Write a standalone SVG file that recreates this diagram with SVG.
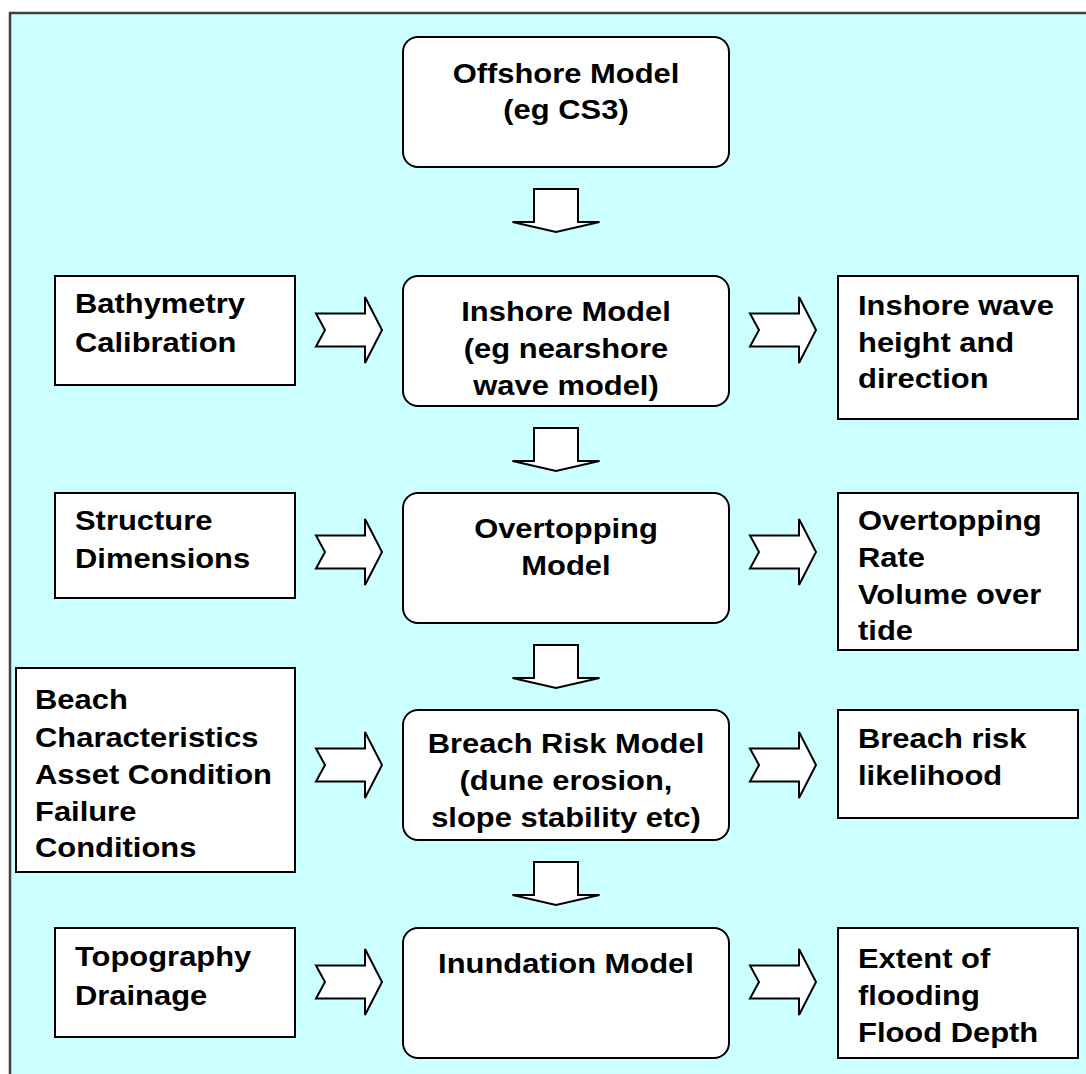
<svg xmlns="http://www.w3.org/2000/svg" width="1086" height="1074" viewBox="0 0 1086 1074">
  <style>
    .frame { fill: #ccffff; stroke: #404040; stroke-width: 2.5; }
    .model { fill: #ffffff; stroke: #000000; stroke-width: 2; }
    .data { fill: #ffffff; stroke: #000000; stroke-width: 2; }
    .arrow { fill: #ffffff; stroke: #000000; stroke-width: 2; stroke-linejoin: miter; }
    text { font-family: "Liberation Sans", Arial, sans-serif; font-weight: bold; font-size: 27px; fill: #000000; }
    .c { text-anchor: middle; }
  </style>
  <defs>
    <!-- notched block arrow pointing right, origin at tail centre -->
    <path id="arrowRight" class="arrow" d="M0,-16.5 H49 V-33 L66,0 L49,33 V16.5 H0 L9,0 Z"/>
    <!-- block arrow pointing down, origin at top centre -->
    <path id="arrowDown" class="arrow" d="M-22,0 H22 V33 H43.5 L0,43 L-43.5,33 H-22 Z"/>
  </defs>

  <rect class="frame" x="10" y="13" width="1100" height="1100"/>

  <!-- central model chain -->
  <g id="offshore-model">
    <rect class="model" x="403" y="37" width="326" height="130" rx="15"/>
    <text class="c" transform="matrix(1.145 0 0 1 566 0)"><tspan x="0" y="83">Offshore Model</tspan><tspan x="0" y="119">(eg CS3)</tspan></text>
  </g>
  <g id="inshore-model">
    <rect class="model" x="403" y="276" width="326" height="130" rx="15"/>
    <text class="c" transform="matrix(1.145 0 0 1 566 0)"><tspan x="0" y="321">Inshore Model</tspan><tspan x="0" y="358">(eg nearshore</tspan><tspan x="0" y="395">wave model)</tspan></text>
  </g>
  <g id="overtopping-model">
    <rect class="model" x="403" y="493" width="326" height="130" rx="15"/>
    <text class="c" transform="matrix(1.145 0 0 1 566 0)"><tspan x="0" y="538">Overtopping</tspan><tspan x="0" y="575">Model</tspan></text>
  </g>
  <g id="breach-risk-model">
    <rect class="model" x="403" y="710" width="326" height="130" rx="15"/>
    <text class="c" transform="matrix(1.145 0 0 1 566 0)"><tspan x="0" y="753">Breach Risk Model</tspan><tspan x="0" y="790">(dune erosion,</tspan><tspan x="0" y="827">slope stability etc)</tspan></text>
  </g>
  <g id="inundation-model">
    <rect class="model" x="403" y="928" width="326" height="130" rx="15"/>
    <text class="c" transform="matrix(1.145 0 0 1 566 0)"><tspan x="0" y="973">Inundation Model</tspan></text>
  </g>

  <!-- inputs -->
  <g id="bathymetry">
    <rect class="data" x="55" y="276" width="240" height="109"/>
    <text transform="matrix(1.145 0 0 1 75 0)"><tspan x="0" y="313">Bathymetry</tspan><tspan x="0" y="352">Calibration</tspan></text>
  </g>
  <g id="structure">
    <rect class="data" x="55" y="493" width="240" height="105"/>
    <text transform="matrix(1.145 0 0 1 75 0)"><tspan x="0" y="530">Structure</tspan><tspan x="0" y="568">Dimensions</tspan></text>
  </g>
  <g id="beach">
    <rect class="data" x="16" y="668" width="279" height="204"/>
    <text transform="matrix(1.145 0 0 1 35 0)"><tspan x="0" y="709">Beach</tspan><tspan x="0" y="747">Characteristics</tspan><tspan x="0" y="784">Asset Condition</tspan><tspan x="0" y="821">Failure</tspan><tspan x="0" y="857">Conditions</tspan></text>
  </g>
  <g id="topography">
    <rect class="data" x="55" y="928" width="240" height="109"/>
    <text transform="matrix(1.145 0 0 1 75 0)"><tspan x="0" y="966">Topography</tspan><tspan x="0" y="1005">Drainage</tspan></text>
  </g>

  <!-- outputs -->
  <g id="inshore-wave">
    <rect class="data" x="838" y="276" width="240" height="143"/>
    <text transform="matrix(1.145 0 0 1 858 0)"><tspan x="0" y="315">Inshore wave</tspan><tspan x="0" y="352">height and</tspan><tspan x="0" y="388">direction</tspan></text>
  </g>
  <g id="overtopping-rate">
    <rect class="data" x="838" y="493" width="240" height="157"/>
    <text transform="matrix(1.145 0 0 1 858 0)"><tspan x="0" y="530">Overtopping</tspan><tspan x="0" y="567">Rate</tspan><tspan x="0" y="604">Volume over</tspan><tspan x="0" y="640">tide</tspan></text>
  </g>
  <g id="breach-likelihood">
    <rect class="data" x="838" y="710" width="240" height="108"/>
    <text transform="matrix(1.145 0 0 1 858 0)"><tspan x="0" y="748">Breach risk</tspan><tspan x="0" y="785">likelihood</tspan></text>
  </g>
  <g id="flood-extent">
    <rect class="data" x="838" y="928" width="240" height="130"/>
    <text transform="matrix(1.145 0 0 1 858 0)"><tspan x="0" y="968">Extent of</tspan><tspan x="0" y="1005">flooding</tspan><tspan x="0" y="1042">Flood Depth</tspan></text>
  </g>

  <!-- connectors -->
  <g id="connectors">
    <use href="#arrowDown" x="556" y="189"/>
    <use href="#arrowDown" x="556" y="428"/>
    <use href="#arrowDown" x="556" y="645"/>
    <use href="#arrowDown" x="556" y="862"/>
    <use href="#arrowRight" x="316" y="330"/>
    <use href="#arrowRight" x="750" y="330"/>
    <use href="#arrowRight" x="316" y="552"/>
    <use href="#arrowRight" x="750" y="552"/>
    <use href="#arrowRight" x="316" y="765"/>
    <use href="#arrowRight" x="750" y="765"/>
    <use href="#arrowRight" x="316" y="982"/>
    <use href="#arrowRight" x="750" y="982"/>
  </g>
</svg>
